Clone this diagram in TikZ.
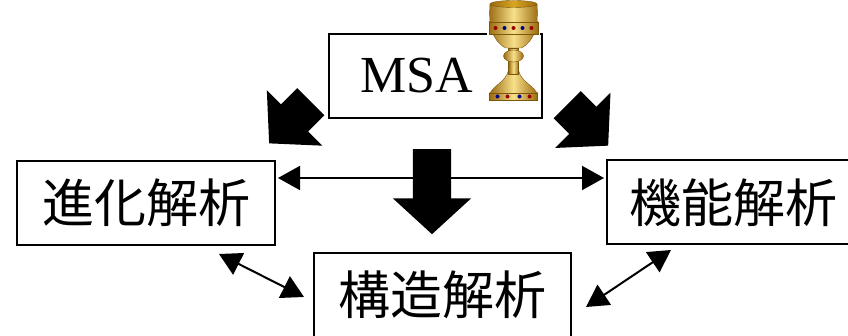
\documentclass[tikz,border=0pt]{standalone}
\usepackage{fontspec}
\setmainfont{Liberation Serif}
\newfontfamily\jafont{Noto Sans CJK JP}
\usetikzlibrary{positioning,arrows.meta,shapes.arrows}

\definecolor{golddark}{HTML}{9A6B10}
\definecolor{goldmid}{HTML}{D9A520}
\definecolor{goldlight}{HTML}{F8E08A}

\begin{document}
\begin{tikzpicture}[
  x=1pt, y=1pt,
  box/.style={rectangle, draw=black, line width=2pt, fill=white, minimum height=84pt, inner sep=0pt, font=\jafont\fontsize{52}{60}\selectfont},
  bigarrow/.style={single arrow, anchor=tail, fill=black, draw=none, minimum width=78pt, single arrow head extend=20pt, single arrow tip angle=95, inner xsep=0pt, inner ysep=19pt},
  link/.style={{Triangle[length=22pt,width=24pt]}-{Triangle[length=22pt,width=24pt]}, line width=2pt},
  gold/.style={shading=axis, left color=golddark, right color=golddark, middle color=goldlight, draw=golddark!80!black, line width=0.4pt},
  gem/.style={circle, fill=#1, inner sep=0pt, minimum size=4pt},
]
  \useasboundingbox (0,0) rectangle (848,336);

  % boxes
  \node[box, minimum width=213pt, font=\rmfamily\fontsize{52}{60}\selectfont] (msa) at (435.5,260) {MSA\hspace*{37pt}};
  \node[box, minimum width=258pt] (evo) at (146,133) {進化解析};
  \node[box, minimum width=253pt] (func) at (733,133.5) {機能解析};
  \node[box, minimum width=257pt] (struct) at (442.5,41) {構造解析};

  % fat arrows out of MSA (placed by their tails)
  \node[bigarrow, minimum height=59pt, rotate=-135] (toevo) at (311,234.5) {};
  \node[bigarrow, minimum height=58pt, rotate=-45] (tofunc) at (567,231.5) {};
  \node[bigarrow, minimum height=85pt, rotate=-90] (tostruct) at (432,187) {};

  % links between the analyses
  \draw[link] ([shift={(2,25)}]evo.east) -- ([shift={(-1.5,24.5)}]func.west);
  \draw[link] ([shift={(-57,-8)}]evo.south east) -- ([shift={(-9,-2)}]struct.west);
  \draw[link] ([shift={(65.5,-4.5)}]func.south west) -- ([shift={(14,-12)}]struct.east);

  % the cup
  \fill[white] (487,232) rectangle (540,336);
  \begin{scope}[shift={(513.5,336)}]
    % foot and stem
    \path[gold] (-5,-70) .. controls (-7,-82) and (-22,-86) .. (-24,-95) -- (-24,-100) -- (24,-100) -- (24,-95) .. controls (22,-86) and (7,-82) .. (5,-70) -- cycle;
    \path[gold] (-24,-93) rectangle (24,-100);
    \path[gold] (-5,-48) rectangle (5,-74);
    \path[gold] (0,-56) ellipse (10 and 6);
    % bowl
    \path[gold] (-23.5,-4) .. controls (-25,-25) and (-22,-40) .. (-8,-48) -- (8,-48) .. controls (22,-40) and (25,-25) .. (23.5,-4) -- cycle;
    \path[gold] (-24.5,-22) rectangle (24.5,-34);
    \path[gold, middle color=goldmid] (0,-4) ellipse (23.5 and 3.5);
    % gems
    \foreach \gx/\gc in {-18/red!60!black, -9/blue!50!black, 0/red!60!black, 9/blue!50!black, 18/red!60!black}
      \node[gem=\gc] at (\gx,-28) {};
    \foreach \gx/\gc in {-16/blue!50!black, -6/red!60!black, 6/blue!50!black, 16/red!60!black}
      \node[gem=\gc] at (\gx,-96.5) {};
  \end{scope}
\end{tikzpicture}
\end{document}
